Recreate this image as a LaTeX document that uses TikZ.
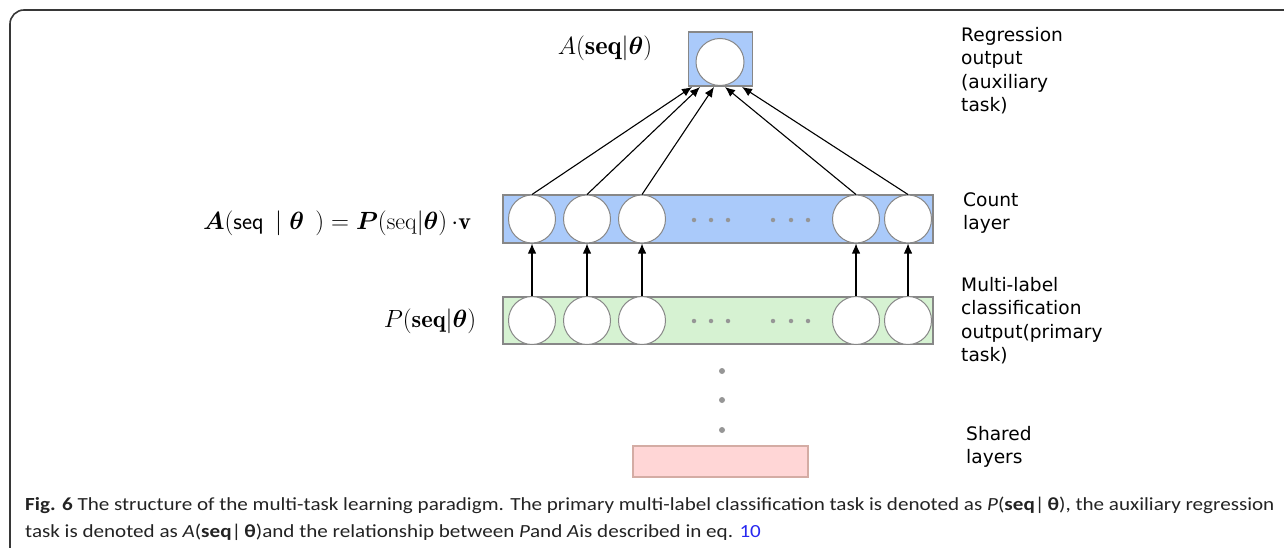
\documentclass[tikz,border=0pt]{standalone}
\usepackage{amsmath}
\usepackage{bm}
\usepackage{fontspec}
\newfontfamily\lblfont{DejaVu Sans}
\newfontfamily\capfont[FakeStretch=1.14]{Carlito}
\usetikzlibrary{arrows.meta,shapes.geometric}
\definecolor{blueF}{RGB}{170,202,250}
\definecolor{greenF}{RGB}{214,242,210}
\definecolor{pinkF}{RGB}{255,214,214}
\definecolor{pinkD}{RGB}{212,172,164}
\definecolor{grayD}{RGB}{135,135,135}
\definecolor{dotC}{RGB}{150,150,150}
\definecolor{frameC}{RGB}{55,55,55}
\definecolor{linkC}{RGB}{40,40,240}
\definecolor{capC}{RGB}{35,35,35}
\tikzset{
  layerbox/.style={draw=grayD, line width=1.2pt, inner sep=0pt},
  neuron/.style={ellipse, draw=grayD, fill=white, line width=1pt, minimum width=47pt, minimum height=48pt, inner sep=0pt},
  conn/.style={-{Latex[length=10pt,width=8.5pt]}, line width=1.1pt, black},
  dotmark/.style={circle, fill=dotC, inner sep=0pt, minimum size=4.5pt},
  vdot/.style={circle, fill=dotC, inner sep=0pt, minimum size=6pt},
  mlbl/.style={inner sep=0pt, font=\fontsize{24}{28}\selectfont},
  rlbl/.style={inner sep=0pt, anchor=north west, align=left, font=\lblfont\fontsize{18.6}{23.5}\selectfont},
  caplbl/.style={inner sep=0pt, anchor=base west, text=capC, font=\capfont\fontsize{18.5}{20}\selectfont},
}
\begin{document}
\begin{tikzpicture}[x=1pt,y=-1pt]
\useasboundingbox (0,0) rectangle (1284,548);
\clip (0,0) rectangle (1284,548);
% frame
\draw[frameC, line width=1.6pt, rounded corners=14pt] (10,600) -- (10,10) -- (1320,10);
% top output
\node[layerbox, fill=blueF, minimum width=64pt, minimum height=54pt] (topbox) at (720.5,59) {};
\node[neuron, minimum width=48pt, minimum height=47pt] (top) at (720,62) {};
% count layer
\node[layerbox, fill=blueF, minimum width=430pt, minimum height=48pt] (cbox) at (718,219) {};
\foreach \i/\x in {1/532,2/587,3/642,4/856,5/908}{
  \node[neuron] (c\i) at (\x,219) {};
}
\foreach \j/\x in {1/694,2/711,3/728,4/773,5/791,6/808}{
  \node[dotmark] (cd\j) at (\x,220) {};
}
% primary layer
\node[layerbox, fill=greenF, minimum width=430pt, minimum height=47pt] (pbox) at (718,320.5) {};
\foreach \i/\x in {1/532,2/587,3/642,4/856,5/908}{
  \node[neuron] (p\i) at (\x,320.5) {};
}
\foreach \j/\x in {1/694,2/711,3/728,4/773,5/791,6/808}{
  \node[dotmark] (pd\j) at (\x,321) {};
}
% vertical dots and shared layers
\node[vdot] (v1) at (722,371) {};
\node[vdot] (v2) at (722,400) {};
\node[vdot] (v3) at (722,430) {};
\node[draw=pinkD, fill=pinkF, line width=1.2pt, minimum width=175pt, minimum height=31pt, inner sep=0pt] (shared) at (720.5,461.5) {};
% arrows primary -> count
\foreach \i in {1,...,5}{
  \draw[conn] (p\i.north) -- (c\i.south);
}
% arrows count -> top
\coordinate (t1) at (692,87);
\coordinate (t2) at (700,87);
\coordinate (t3) at (714,87);
\coordinate (t4) at (725,87);
\coordinate (t5) at (742,87);
\foreach \i in {1,...,5}{
  \draw[conn] (c\i.north) -- (t\i);
}
% math labels
\node[mlbl, font=\fontsize{26.5}{30}\selectfont] (lA) at (605,48) {$A(\mathbf{seq}|\boldsymbol{\theta})$};
\node[mlbl] (lEq) at (337,223) {$\boldsymbol{A}(\textsf{seq}\ \,|\ \boldsymbol{\theta}\ \,) = \boldsymbol{P}(\mathrm{seq}|\boldsymbol{\theta})\,{\cdot}\mathbf{v}$};
\node[mlbl, font=\fontsize{24.5}{28}\selectfont] (lP) at (430,321) {$P(\mathbf{seq}|\boldsymbol{\theta})$};
% right labels
\node[rlbl] (r1) at (961,27) {Regression\\output\\(auxiliary\\task)};
\node[rlbl] (r2) at (963,192) {Count\\layer};
\node[rlbl] (r3) at (961,277) {Multi-label\\classification\\output(primary\\task)};
\node[rlbl] (r4) at (966,426) {Shared\\layers};
% caption
\node[caplbl] (cap1) at (25,510) {\textbf{Fig. 6} The structure of the multi-task learning paradigm. The primary multi-label classification task is denoted as \textit{P}(\textbf{seq}|\,\textbf{θ}), the auxiliary regression};
\node[caplbl] (cap2) at (25,537) {task is denoted as \textit{A}(\textbf{seq}|\,\textbf{θ})and the relationship between \textit{P}and \textit{A}is described in eq. \textcolor{linkC}{10}};
\end{tikzpicture}
\end{document}
